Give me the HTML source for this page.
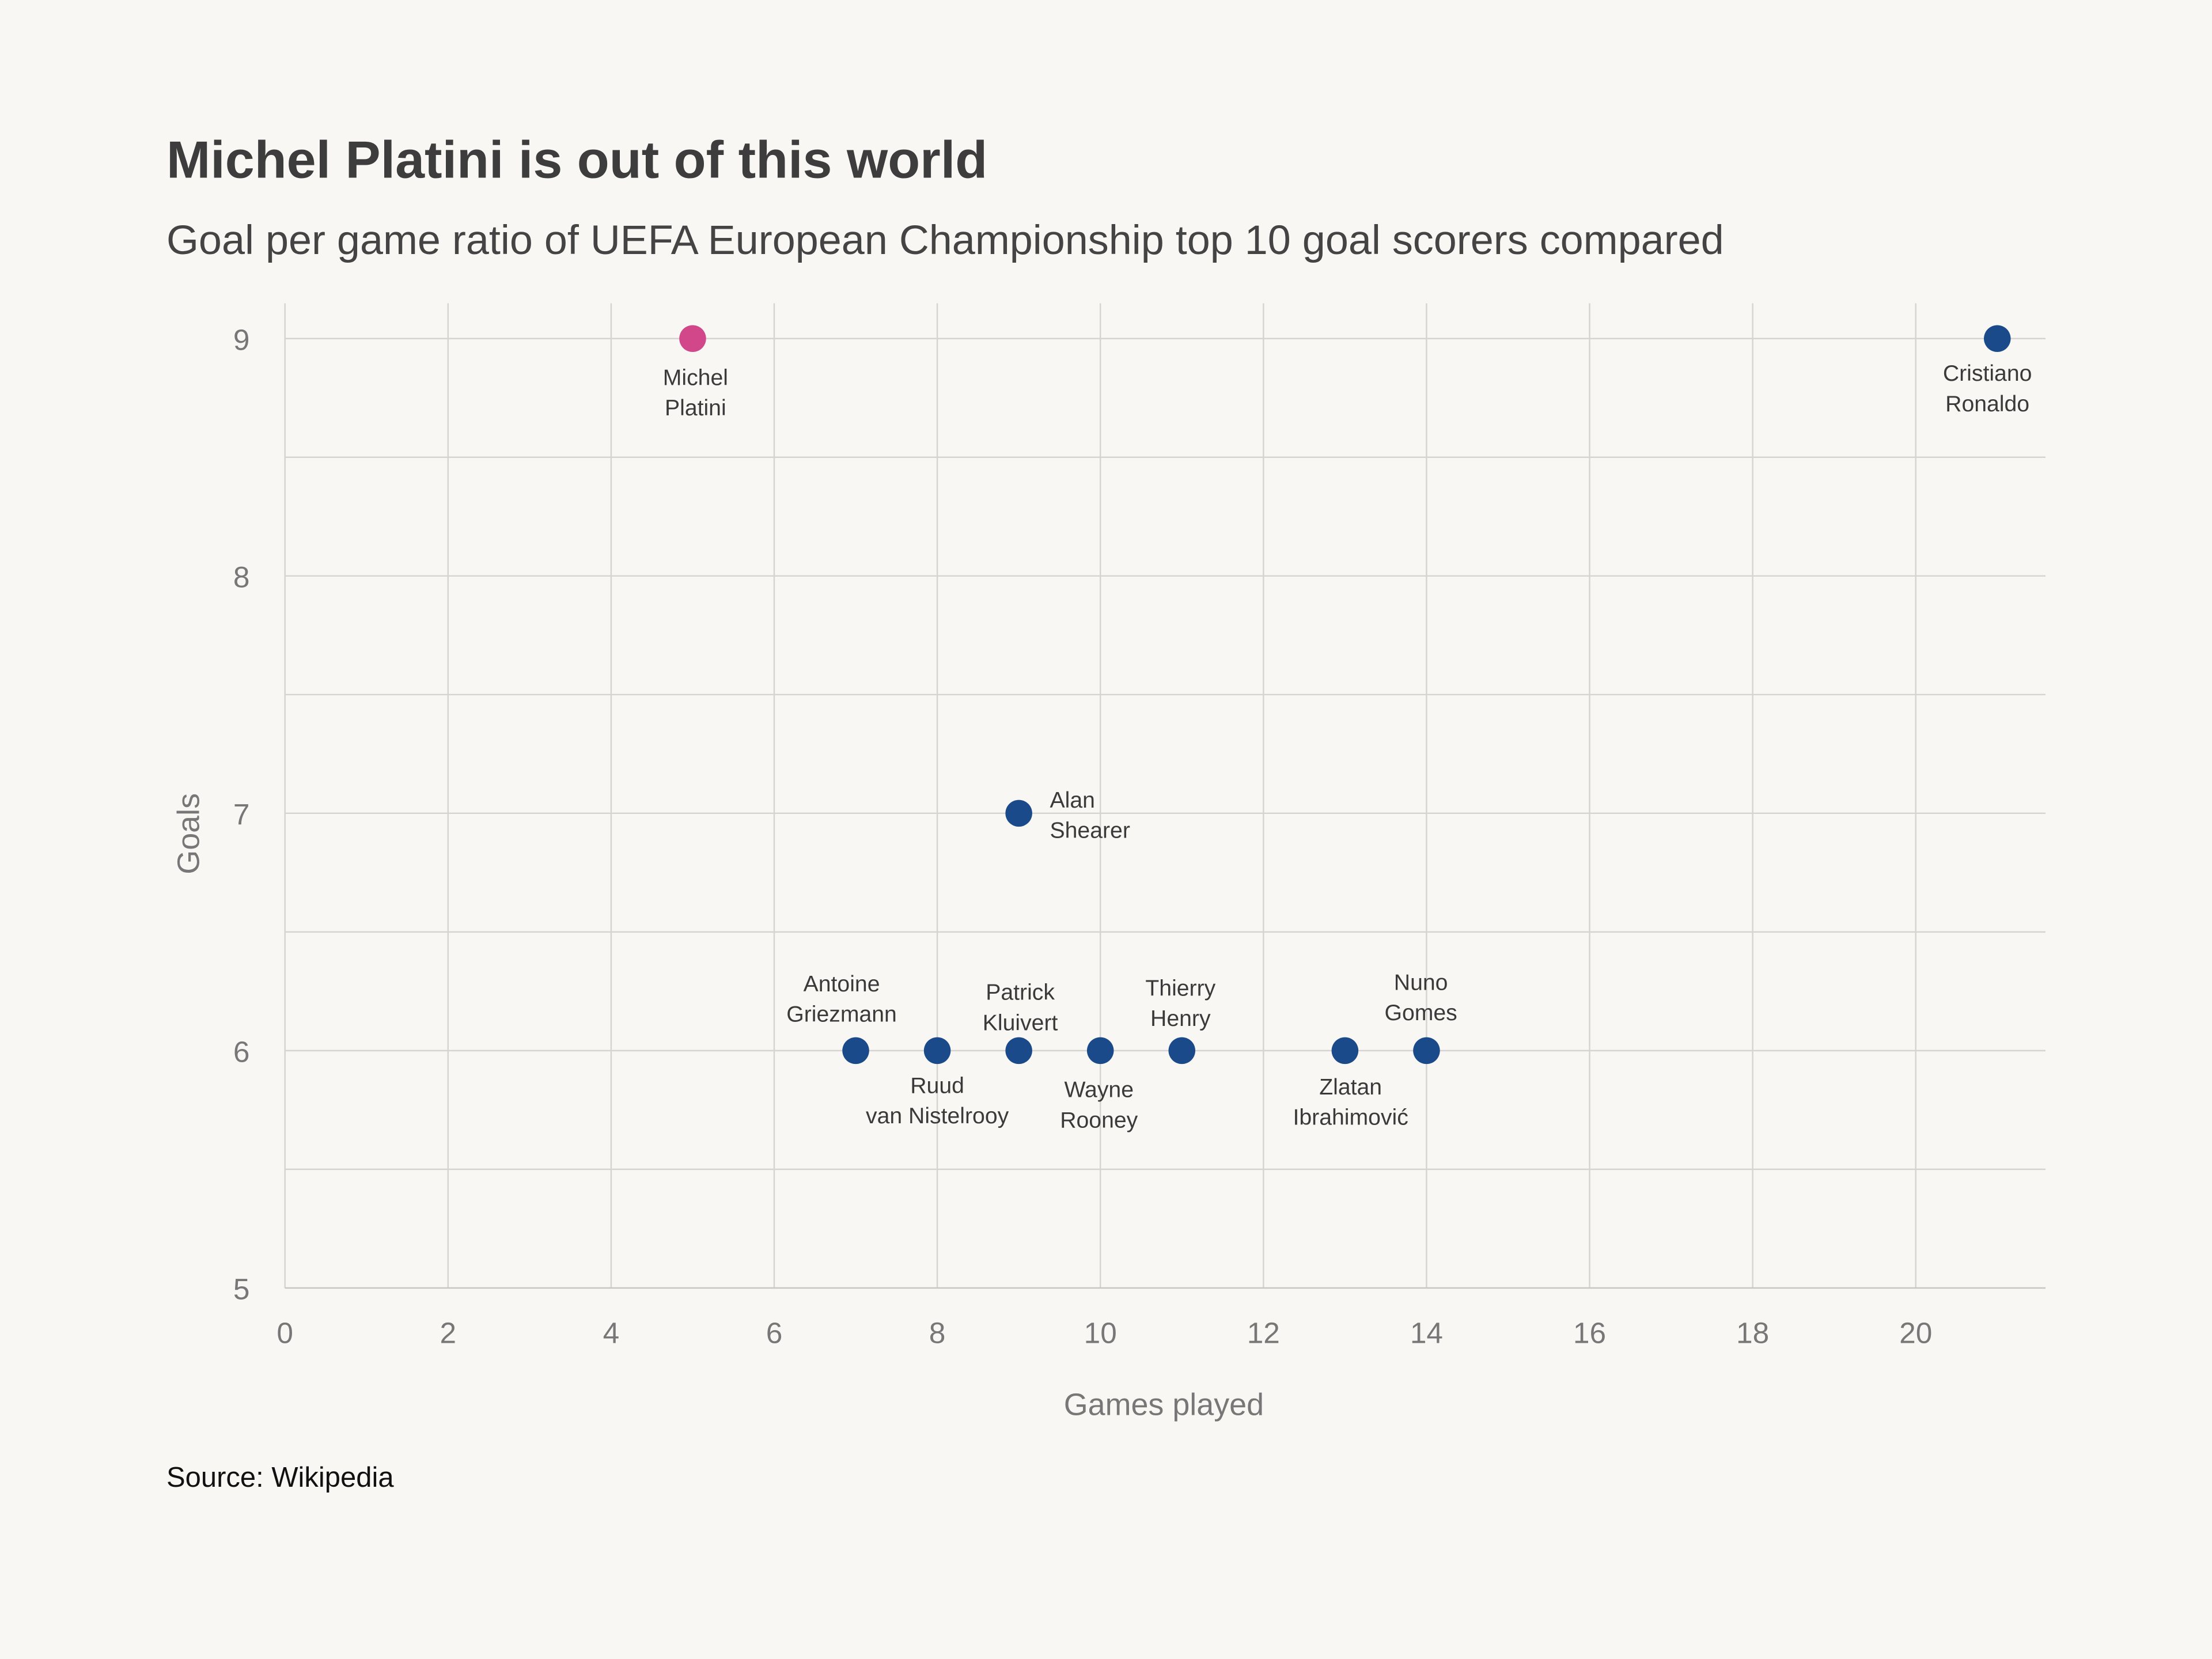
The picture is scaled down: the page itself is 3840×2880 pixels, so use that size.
<!DOCTYPE html>
<html><head><meta charset="utf-8"><style>
html,body{margin:0;padding:0;background:#f9f7f4;}
svg{display:block;font-family:"Liberation Sans",sans-serif;}
</style></head><body>
<svg id="chart" width="3840" height="2880" viewBox="0 0 1568 1176" xmlns="http://www.w3.org/2000/svg">
<rect x="0" y="0" width="1568" height="1176" fill="#f9f7f4"/>
<text x="118" y="126" font-size="37" font-weight="bold" fill="#3d3d3d" textLength="582" lengthAdjust="spacingAndGlyphs">Michel Platini is out of this world</text>
<text x="118" y="180" font-size="29" fill="#444" textLength="1104" lengthAdjust="spacingAndGlyphs">Goal per game ratio of UEFA European Championship top 10 goal scorers compared</text>
<g id="grid"></g>
<g id="axes"></g>
<g id="points"></g>
<text x="825" y="1003" font-size="22" fill="#777" text-anchor="middle">Games played</text>
<text x="0" y="0" font-size="22" fill="#777" text-anchor="middle" transform="translate(141,591) rotate(-90)">Goals</text>
<text x="118" y="1054" font-size="20" fill="#111">Source: Wikipedia</text>
</svg>
<script>
const names = [["Michel","Platini"],["Cristiano","Ronaldo"],["Alan","Shearer"],["Antoine","Griezmann"],["Ruud","van Nistelrooy"],["Patrick","Kluivert"],["Wayne","Rooney"],["Thierry","Henry"],["Zlatan","Ibrahimović"],["Nuno","Gomes"]];
const games = [5,21,9,7,8,9,10,11,13,14];
const goals = [9,9,7,6,6,6,6,6,6,6];
const highlight = [true,false,false,false,false,false,false,false,false,false];
const xTicks = [0,2,4,6,8,10,12,14,16,18,20];
const yTicks = [5,5.5,6,6.5,7,7.5,8,8.5,9];
const yLabels = [5,6,7,8,9];
// label placement (offsets from point, display px): dx, dy of first line, anchor
const labelDx = [2,-7,22,-10,0,1,-1,-1,4,-4];
const labelDy = [33,30,-4,-42,30,-36,33,-39,31,-43];
const labelAnchor = ["middle","middle","start","middle","middle","middle","middle","middle","middle","middle"];

const NS = "http://www.w3.org/2000/svg";
const X0 = 202, XU = 57.8, Y0 = 913, YU = 168.25;
const xS = v => X0 + v*XU;
const yS = v => Y0 - (v-5)*YU;
const plotL = xS(0), plotR = 1450, plotT = 215, plotB = yS(5);
function mk(tag, attrs, parent){const e=document.createElementNS(NS,tag);for(const k in attrs)e.setAttribute(k,attrs[k]);parent.appendChild(e);return e;}
const grid = document.getElementById('grid'), axes = document.getElementById('axes'), pts = document.getElementById('points');
xTicks.forEach(t=>{
  const l = mk('line',{x1:xS(t),x2:xS(t),y1:plotT,y2:plotB,stroke:'#d6d3d0','stroke-width':1},grid);
  
  
  const tx = mk('text',{x:xS(t),y:952,'font-size':21,fill:'#777','text-anchor':'middle'},axes);
  tx.textContent = t;
  
  
});
yTicks.forEach(t=>{
  const l = mk('line',{x1:plotL,x2:plotR,y1:yS(t),y2:yS(t),stroke:'#d6d3d0','stroke-width':1},grid);
  
  
});
yLabels.forEach(t=>{
  const tx = mk('text',{x:177,y:yS(t)+8,'font-size':21,fill:'#777','text-anchor':'end'},axes);
  tx.textContent = t;
  
  
});
const ax = mk('line',{x1:plotL,x2:plotR,y1:plotB,y2:plotB,stroke:'#c9c6c3','stroke-width':1},axes);


games.forEach((g,i)=>{
  const cx = xS(g), cy = yS(goals[i]);
  const c = mk('circle',{cx:cx,cy:cy,r:9.5,fill:highlight[i]?'#d1478a':'#1a4a8a'},pts);
  
  
  const t = mk('text',{x:cx+labelDx[i],y:cy+labelDy[i],'font-size':16,fill:'#3a3a3a','text-anchor':labelAnchor[i]},pts);
  
  
  names[i].forEach((n,j)=>{const s=mk('tspan',{x:cx+labelDx[i],dy:j?21.5:0},t);s.textContent=n;});
});
</script>
</body></html>
